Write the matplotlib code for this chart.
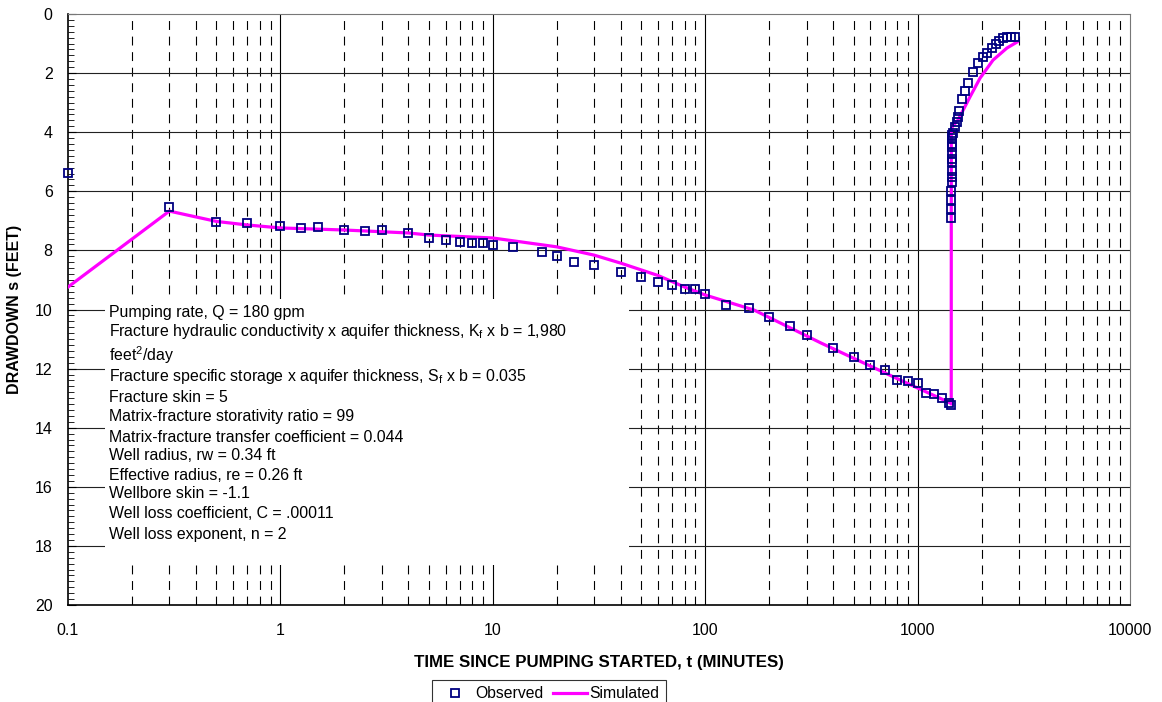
import numpy as np
import matplotlib
matplotlib.use("Agg")
import matplotlib.pyplot as plt
from matplotlib.patches import Rectangle
from matplotlib.ticker import FixedLocator, NullFormatter, MultipleLocator

plt.rcParams["font.family"] = ["Liberation Sans", "DejaVu Sans"]
plt.rcParams["mathtext.fontset"] = "custom"
plt.rcParams["mathtext.rm"] = "Liberation Sans"

# Observed drawdown (pumping phase, then recovery after pump shut-off)
obs_t = [0.1, 0.3, 0.5, 0.7, 1, 1.25, 1.5, 2, 2.5, 3, 4, 5, 6, 7, 8, 9, 10,
         12.5, 17, 20, 24, 30, 40, 50, 60, 70, 80, 90, 100, 125, 160, 200,
         250, 300, 400, 500, 600, 700, 800, 900, 1000, 1100, 1200, 1300,
         1400, 1440,
         1441, 1442, 1443, 1444, 1445, 1446, 1447, 1448, 1449, 1450, 1452,
         1454, 1456, 1458, 1468, 1500, 1534, 1550, 1568, 1620, 1670, 1730,
         1820, 1920, 2030, 2120, 2240, 2340, 2420, 2520, 2640, 2750, 2880]
obs_s = [5.38, 6.53, 7.04, 7.07, 7.17, 7.24, 7.20, 7.31, 7.34, 7.31, 7.41,
         7.58, 7.65, 7.72, 7.75, 7.75, 7.82, 7.88, 8.05, 8.19, 8.39, 8.49,
         8.73, 8.90, 9.07, 9.17, 9.31, 9.31, 9.48, 9.85, 9.95, 10.25, 10.56,
         10.86, 11.30, 11.61, 11.88, 12.05, 12.39, 12.42, 12.49, 12.83, 12.86,
         12.99, 13.16, 13.23,
         6.91, 6.61, 6.30, 6.00, 5.70, 5.50, 5.30, 5.00, 4.90, 4.70, 4.50,
         4.40, 4.20, 4.10, 4.03, 3.82, 3.65, 3.48, 3.28, 2.88, 2.60, 2.33,
         1.96, 1.66, 1.45, 1.32, 1.15, 1.02, 0.91, 0.82, 0.78, 0.78, 0.78]

# Simulated drawdown (model fit)
sim_t = [0.1, 0.3, 0.5, 0.7, 1, 2, 4, 5, 10, 20, 30, 40, 60, 80, 100, 170,
         350, 830, 1422, 1440, 1441, 1460, 1549, 1766, 1968, 2265, 2635, 2938]
sim_s = [9.24, 6.67, 7.02, 7.14, 7.24, 7.31, 7.41, 7.48, 7.58, 7.88, 8.16,
         8.43, 8.85, 9.24, 9.51, 10.02, 11.13, 12.39, 13.16, 13.20, 3.93,
         3.80, 3.59, 2.80, 2.17, 1.56, 1.15, 0.95]

params = [
    r"Pumping rate, Q = 180 gpm",
    r"Fracture hydraulic conductivity x aquifer thickness, K$_\mathregular{f}$ x b = 1,980",
    r"feet$^\mathregular{2}$/day",
    r"Fracture specific storage x aquifer thickness, S$_\mathregular{f}$ x b = 0.035",
    r"Fracture skin = 5",
    r"Matrix-fracture storativity ratio = 99",
    r"Matrix-fracture transfer coefficient = 0.044",
    r"Well radius, rw = 0.34 ft",
    r"Effective radius, re = 0.26 ft",
    r"Wellbore skin = -1.1",
    r"Well loss coefficient, C = .00011",
    r"Well loss exponent, n = 2",
]
param_rows = [312, 332, 355, 376, 397, 417, 437, 456, 475, 494, 514, 535]

fig = plt.figure(figsize=(11.62, 7.02), dpi=100)
ax = fig.add_axes([68 / 1162, 1 - 605 / 702, 1062 / 1162, 591 / 702])

ax.set_xscale("log")
ax.set_xlim(0.1, 10000)
ax.set_ylim(20, 0)

# grid: solid at decades / every 2 ft, dashed at intermediate cycles
decades = [1, 10, 100, 1000]
minors = [m * 10.0 ** e for e in range(-1, 4) for m in range(2, 10)]
for x in decades:
    ax.axvline(x, color="black", lw=0.8, zorder=0.5)
for x in minors:
    ax.axvline(x, color="black", lw=0.8, ls=(0, (8, 6)), zorder=0.5)
for y in range(2, 20, 2):
    ax.axhline(y, color="#222222", lw=0.8, zorder=0.5)

ax.xaxis.set_major_locator(FixedLocator([0.1, 1, 10, 100, 1000, 10000]))
ax.set_xticklabels(["0.1", "1", "10", "100", "1000", "10000"])
ax.xaxis.set_minor_locator(FixedLocator([]))
ax.xaxis.set_minor_formatter(NullFormatter())
ax.tick_params(axis="x", which="both", length=0, pad=13, labelsize=11.5)
ax.yaxis.set_major_locator(MultipleLocator(2))
ax.yaxis.set_minor_locator(MultipleLocator(0.2))
ax.tick_params(axis="y", which="major", direction="in", length=6, pad=11,
               labelsize=11.5)
ax.tick_params(axis="y", which="minor", direction="in", length=4)

for side in ["top", "right"]:
    ax.spines[side].set_color("#777777")
    ax.spines[side].set_linewidth(0.8)
for side in ["left", "bottom"]:
    ax.spines[side].set_linewidth(1.2)

# parameter box
ax.add_patch(Rectangle((37 / 1062, 1 - 551 / 591), 524 / 1062, 266 / 591,
                       transform=ax.transAxes, facecolor="white",
                       edgecolor="none", zorder=1))
for label, row in zip(params, param_rows):
    ax.text(41 / 1062, 1 - (row - 14) / 591, label, transform=ax.transAxes,
            fontsize=11.4, va="center", ha="left", zorder=2)

ax.plot(sim_t, sim_s, color="#FF00FF", lw=2.3, zorder=3, label="Simulated")
ax.plot(obs_t, obs_s, ls="none", marker="s", ms=6, mfc="none",
        mec="#000080", mew=1.3, zorder=4, clip_on=False, label="Observed")

ax.set_xlabel("TIME SINCE PUMPING STARTED, t (MINUTES)", fontsize=12.2,
              fontweight="bold", labelpad=12)
ax.set_ylabel("DRAWDOWN s (FEET)", fontsize=11.5, fontweight="bold",
              labelpad=9)

handles, labels = ax.get_legend_handles_labels()
leg = fig.legend(handles[::-1], labels[::-1], loc="upper center",
                 bbox_to_anchor=(549 / 1162, 1 - 680 / 702), ncol=2,
                 fontsize=11.3, frameon=True, fancybox=False,
                 handlelength=2.15, columnspacing=0.6, handletextpad=0.2,
                 borderpad=0.4, borderaxespad=0)
leg.get_frame().set_edgecolor("black")
leg.get_frame().set_linewidth(0.8)

fig.savefig("out.png", dpi=100)
